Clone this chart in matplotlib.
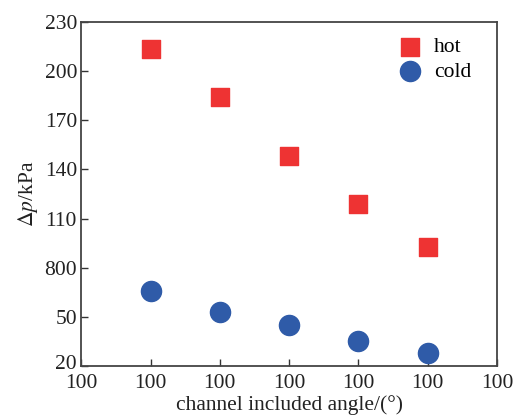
import matplotlib.pyplot as plt
import matplotlib.transforms as mtransforms

# ====== DATA ======
x_pos = [1, 2, 3, 4, 5]
hot = [213.5, 184.2, 148.2, 118.9, 92.6]
cold = [65.8, 53.0, 45.0, 35.3, 28.0]
x_ticks = [0, 1, 2, 3, 4, 5, 6]
x_labels = ["100"] * 7
y_ticks = [20, 50, 80, 110, 140, 170, 200, 230]
y_labels = ["20", "50", "800", "110", "140", "170", "200", "230"]
# ==================

plt.rcParams['font.family'] = ['Liberation Serif', 'DejaVu Serif']
plt.rcParams['mathtext.fontset'] = 'stix'

fig = plt.figure(figsize=(5.14, 4.16), dpi=100)
ax = fig.add_axes([0.158, 0.120, 0.809, 0.827])

ax.scatter(x_pos, hot, marker='s', s=185, color='#EE3333', label='hot', zorder=3)
ax.scatter(x_pos, cold, marker='o', s=210, color='#2F5BA8', label='cold', zorder=3)

ax.set_xlim(0, 6)
ax.set_ylim(20, 230)
ax.set_xticks(x_ticks)
ax.set_xticklabels(x_labels)
ax.set_yticks(y_ticks)
ax.set_yticklabels(y_labels)
ax.tick_params(direction='in', length=5, width=1, labelsize=15.5, colors='#333333', labelcolor='#222222')
ax.tick_params(axis='x', pad=6)
ax.tick_params(axis='y', pad=3)

# lift the bottom "20" a little so it doesn't sit on the first "100"
lift = mtransforms.ScaledTranslation(0, 3 / 72, fig.dpi_scale_trans)
first = ax.get_yticklabels()[0]
first.set_transform(first.get_transform() + lift)

for s in ax.spines.values():
    s.set_color('#444444')
    s.set_linewidth(1.3)

ax.set_xlabel("channel included angle/(°)", fontsize=15.5, color='#222222', labelpad=1)
ax.set_ylabel(r"$\Delta\mathit{p}$/kPa", fontsize=15.5, color='#222222', labelpad=3)

ax.legend(loc='upper right', bbox_to_anchor=(0.985, 1.012), frameon=False, fontsize=15.5,
          handletextpad=0.1, labelspacing=0.2, borderpad=0.4, markerscale=1.0)

plt.savefig("out.png", dpi=100)
